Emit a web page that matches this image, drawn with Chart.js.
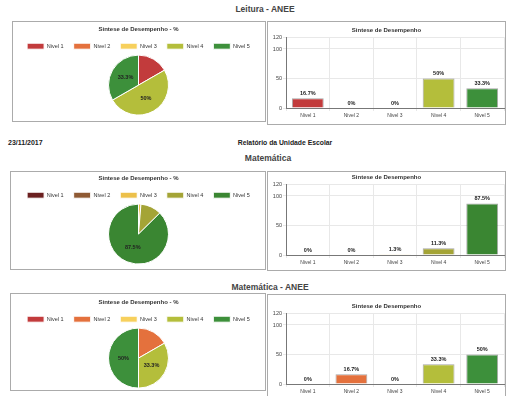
<!DOCTYPE html>
<html>
<head>
<meta charset="utf-8">
<script src="https://cdn.jsdelivr.net/npm/chart.js@4.4.0/dist/chart.umd.min.js"></script>
<style>
body { margin:0; background:#fff; width:510px; height:396px; overflow:hidden; position:relative; font-family:"Liberation Sans", Arial, sans-serif; }
.caixa { position:absolute; border:1px solid #ababab; box-sizing:border-box; }
canvas { position:absolute; }
.txt { position:absolute; font-weight:bold; white-space:nowrap; color:#444; }
.centro { transform:translateX(-50%); }
</style>
</head>
<body>

<div class="txt centro" style="left:265px; top:4px; font-size:8.5px;">Leitura - ANEE</div>
<div class="txt" style="left:8px; top:139px; font-size:7px; color:#222;">23/11/2017</div>
<div class="txt centro" style="left:285px; top:139px; font-size:6.8px; color:#222;">Relatório da Unidade Escolar</div>
<div class="txt centro" style="left:268px; top:153px; font-size:8.5px;">Matemática</div>
<div class="txt centro" style="left:270px; top:282px; font-size:8.5px;">Matemática - ANEE</div>

<div class="caixa" style="left:12px; top:21px; width:254px; height:101px;"></div>
<div class="caixa" style="left:267px; top:21px; width:239px; height:104px;"></div>
<div class="caixa" style="left:10px; top:171px; width:256px; height:99px;"></div>
<div class="caixa" style="left:267px; top:171px; width:239px; height:100px;"></div>
<div class="caixa" style="left:10px; top:293px; width:256px; height:98px;"></div>
<div class="caixa" style="left:267px; top:294px; width:239px; height:110px;"></div>

<canvas id="pieLeitura" width="253" height="101" style="left:12px; top:21px;"></canvas>
<canvas id="barLeitura" width="238" height="103" style="left:267px; top:22px;"></canvas>
<canvas id="pieMat" width="253" height="101" style="left:12px; top:170px;"></canvas>
<canvas id="barMat" width="238" height="103" style="left:267px; top:169px;"></canvas>
<canvas id="pieMatAnee" width="253" height="101" style="left:12px; top:294px;"></canvas>
<canvas id="barMatAnee" width="238" height="103" style="left:267px; top:298px;"></canvas>

<script>
var niveis = ["Nivel 1", "Nivel 2", "Nivel 3", "Nivel 4", "Nivel 5"];
var leituraAnee = [16.7, 0, 0, 50, 33.3];
var matematica = [0, 0, 1.3, 11.3, 87.5];
var matematicaAnee = [0, 16.7, 0, 33.3, 50];
var marcasY = [0, 50, 100, 120];

// cores de cada nivel
var coresNormais = ["#c23b3c", "#e4713d", "#f7d05c", "#b4be3b", "#3d903b"];
var coresMat = ["#6b2020", "#8f5a34", "#ecc04a", "#a4a436", "#3a8632"];

Chart.defaults.font.family = '"Liberation Sans", Arial, sans-serif';

// escreve os percentuais nas fatias e em cima das barras
var rotulos = {
  id: "rotulos",
  afterDatasetsDraw: function(chart) {
    var ctx = chart.ctx;
    var meta = chart.getDatasetMeta(0);
    var valores = chart.data.datasets[0].data;
    ctx.save();
    ctx.font = "bold 5.5px " + Chart.defaults.font.family;
    ctx.fillStyle = "#222";
    ctx.textAlign = "center";
    meta.data.forEach(function(el, i) {
      var v = valores[i];
      if (chart.config.type === "pie") {
        if (v < 20) return;
        var ang = (el.startAngle + el.endAngle) / 2;
        var r = el.outerRadius * 0.5;
        ctx.textBaseline = "middle";
        ctx.fillText(v + "%", el.x + Math.cos(ang) * r, el.y + Math.sin(ang) * r);
      } else {
        ctx.textBaseline = "bottom";
        ctx.fillText(v + "%", el.x, el.y - 2);
      }
    });
    ctx.restore();
  }
};

function GraficoPizza(id, dados, cores) {
  var ctx = document.getElementById(id).getContext("2d");
  return new Chart(ctx, {
    type: "pie",
    data: {
      labels: niveis,
      datasets: [{ data: dados, backgroundColor: cores, borderColor: "#fff", borderWidth: 1, radius: 30, clip: false }]
    },
    options: {
      responsive: false,
      animation: false,
      layout: { padding: { bottom: 11 } },
      plugins: {
        title: { display: true, text: "Sintese de Desempenho - %", color: "#333", font: { size: 6, weight: "bold" }, padding: { top: 5, bottom: 0 } },
        legend: { position: "top", labels: { boxWidth: 17, boxHeight: 6, padding: 10, color: "#333", font: { size: 5.5 } } },
        tooltip: { enabled: false }
      }
    },
    plugins: [rotulos]
  });
}

function GraficoBarras(id, dados, cores) {
  var ctx = document.getElementById(id).getContext("2d");
  return new Chart(ctx, {
    type: "bar",
    data: {
      labels: niveis,
      datasets: [{ data: dados, backgroundColor: cores, borderColor: "rgba(0,0,0,0.35)", borderWidth: 1, categoryPercentage: 1, barPercentage: 0.73 }]
    },
    options: {
      responsive: false,
      animation: false,
      layout: { padding: { left: 2, right: 1, top: 0, bottom: 3 } },
      plugins: {
        legend: { display: false },
        title: { display: true, text: "Sintese de Desempenho", color: "#333", font: { size: 6, weight: "bold" }, padding: { top: 5, bottom: 3 } },
        tooltip: { enabled: false }
      },
      scales: {
        x: {
          grid: { color: "#e8e8e8", tickLength: 3 },
          border: { color: "#777" },
          ticks: { color: "#444", font: { size: 5 }, padding: 2 },
          afterFit: function(s) { s.height = 14; }
        },
        y: {
          min: 0,
          max: 120,
          afterBuildTicks: function(s) { s.ticks = marcasY.map(function(v) { return { value: v }; }); },
          grid: { color: "#e8e8e8", tickLength: 3 },
          border: { color: "#777" },
          ticks: { color: "#444", font: { size: 5.5 }, padding: 1 },
          afterFit: function(s) { s.width = 17; }
        }
      }
    },
    plugins: [rotulos]
  });
}

GraficoPizza("pieLeitura", leituraAnee, coresNormais);
GraficoBarras("barLeitura", leituraAnee, coresNormais);
GraficoPizza("pieMat", matematica, coresMat);
GraficoBarras("barMat", matematica, coresMat);
GraficoPizza("pieMatAnee", matematicaAnee, coresNormais);
GraficoBarras("barMatAnee", matematicaAnee, coresNormais);
</script>
</body>
</html>
